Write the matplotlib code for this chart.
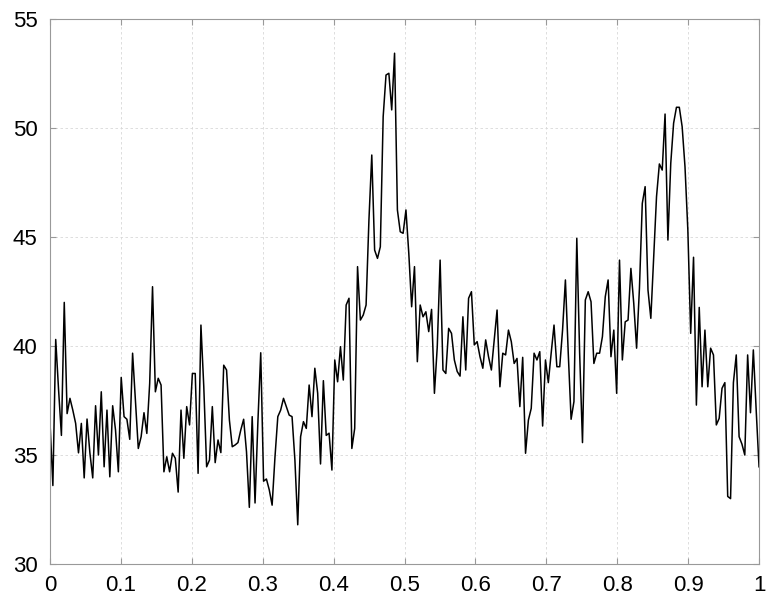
import numpy as np
import matplotlib
matplotlib.use("Agg")
import matplotlib.pyplot as plt

# signal values, left to right
seg1 = [36.47, 33.6, 40.3, 38.0, 35.9, 42.0, 36.9, 37.6, 37.06, 36.45, 35.1, 36.45,
        33.95, 36.65, 35.1, 33.95, 37.26, 35.0, 37.9, 34.46, 37.06, 34.0, 37.26, 36.15,
        34.23, 38.56, 36.76, 36.64, 35.72, 39.67, 37.52, 35.3]
seg2 = [35.84, 36.94, 35.99, 38.28, 42.72, 37.9, 38.52, 38.21, 34.23, 34.92, 34.23,
        35.08, 34.85, 33.3, 37.06, 34.85, 37.22, 36.38, 38.74, 38.74, 34.16, 40.96,
        38.13, 34.46, 34.77, 37.22, 34.65, 35.69, 35.11, 39.12, 38.9, 36.6, 35.38, 35.46]
seg3 = [35.57, 36.15, 36.64, 35.15, 32.6, 36.76, 32.8, 36.5, 39.69, 33.8, 33.9, 33.4,
        32.7, 34.9, 36.76, 37.06, 37.6, 37.22, 36.83, 36.76, 34.77, 31.8, 35.84, 36.53,
        36.22, 38.21, 36.76, 38.98, 37.83, 34.59, 38.41, 35.9, 36.0]
seg4 = [34.31, 39.36, 38.36, 39.97, 38.44, 41.88, 42.19, 35.3, 36.22, 43.64, 41.19,
        41.42, 41.88, 45.78, 48.76, 44.4, 44.02, 44.55, 50.52, 52.43, 52.51, 50.83, 53.43,
        46.24, 45.24, 45.17, 46.24, 44.25, 41.8, 43.64, 39.28, 41.88]
seg5 = [41.34, 41.57, 40.66, 41.68, 37.83, 39.97, 43.94, 38.9, 38.74, 40.81, 40.58,
        39.36, 38.83, 38.62, 41.34, 38.9, 42.19, 42.49, 40.05, 40.2, 39.51, 38.98, 40.28,
        39.51, 38.9, 40.28, 41.65, 38.13, 39.67, 39.59, 40.73]
seg6 = [40.2, 39.2, 39.43, 37.22, 39.48, 35.08, 36.6, 37.14, 39.67, 39.36, 39.74, 36.33,
        39.36, 38.32, 39.67, 40.96, 39.05, 39.05, 40.73, 43.03, 39.67, 36.64, 37.45, 44.94,
        39.67, 35.57, 42.11, 42.49, 42.03, 39.2, 39.67, 39.67]
seg7 = [40.43, 42.26, 43.03, 39.51, 40.73, 37.83, 43.94, 39.36, 41.11, 41.19, 43.56,
        41.96, 39.9, 42.65, 46.54, 47.31, 42.57, 41.27, 44.1, 46.85, 48.35, 48.07, 50.64,
        44.86, 48.38, 50.22, 50.95, 50.95, 50.06, 48.22, 45.32, 40.58]
seg8 = [44.07, 37.29, 41.77, 38.13, 40.73, 38.13, 39.9, 39.59, 36.38, 36.68, 38.06,
        38.32, 33.1, 33.0, 38.32, 39.59, 35.84, 35.5, 35.0, 39.59, 36.94, 39.82, 37.06, 34.46]

y = np.array(seg1 + seg2 + seg3 + seg4 + seg5 + seg6 + seg7 + seg8)
x = np.linspace(0, 1, len(y))

xticks = [0, 0.1, 0.2, 0.3, 0.4, 0.5, 0.6, 0.7, 0.8, 0.9, 1]
xtick_labels = ["0", "0.1", "0.2", "0.3", "0.4", "0.5", "0.6", "0.7", "0.8", "0.9", "1"]
yticks = [30, 35, 40, 45, 50, 55]

plt.rcParams['font.family'] = ['Liberation Sans', 'DejaVu Sans']

fig = plt.figure(figsize=(7.66, 5.99), dpi=100)
ax = fig.add_axes([0.0653, 0.0584, 0.9256, 0.9099])

ax.plot(x, y, color='black', linewidth=1.1)

ax.set_xlim(0, 1)
ax.set_ylim(30, 55)
ax.set_xticks(xticks)
ax.set_xticklabels(xtick_labels)
ax.set_yticks(yticks)

# light dashed grid like the original
ax.grid(True, color='#d8d8d8', linestyle=(0, (3, 3)), linewidth=0.6)
ax.set_axisbelow(True)
for s in ax.spines.values():
    s.set_color('#999999')
    s.set_linewidth(0.8)
ax.tick_params(direction='in', length=4, color='#999999', labelsize=16,
               top=True, right=True)
ax.tick_params(axis='x', pad=8)
ax.tick_params(axis='y', pad=9)

fig.savefig('out.png', dpi=100)
